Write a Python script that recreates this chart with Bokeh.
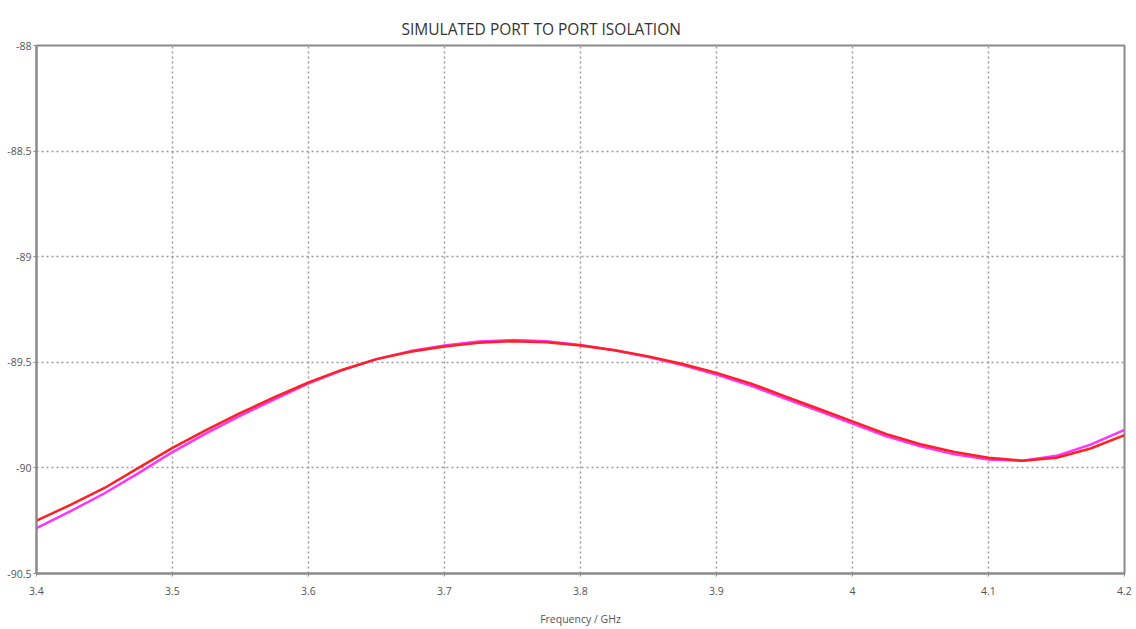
from bokeh.plotting import figure
from bokeh.models import Range1d, FixedTicker, Title
from bokeh.embed import file_html
from bokeh.resources import INLINE

freq = [3.400, 3.425, 3.450, 3.475, 3.500, 3.525, 3.550, 3.575, 3.600, 3.625, 3.650,
        3.675, 3.700, 3.725, 3.750, 3.775, 3.800, 3.825, 3.850, 3.875, 3.900, 3.925,
        3.950, 3.975, 4.000, 4.025, 4.050, 4.075, 4.100, 4.125, 4.150, 4.175, 4.200]

iso_red = [-90.25, -90.175, -90.095, -90.0, -89.905, -89.82, -89.74, -89.665, -89.595, -89.535, -89.485,
           -89.45, -89.425, -89.408, -89.40, -89.405, -89.42, -89.443, -89.472, -89.508, -89.55, -89.60,
           -89.66, -89.72, -89.78, -89.84, -89.888, -89.925, -89.952, -89.966, -89.952, -89.908, -89.845]

iso_magenta = [-90.285, -90.205, -90.12, -90.025, -89.925, -89.835, -89.752, -89.675, -89.60, -89.537, -89.485,
               -89.447, -89.42, -89.402, -89.395, -89.40, -89.418, -89.443, -89.475, -89.513, -89.558, -89.61,
               -89.67, -89.73, -89.79, -89.85, -89.898, -89.936, -89.96, -89.966, -89.943, -89.89, -89.82]

x_ticks = [3.4, 3.5, 3.6, 3.7, 3.8, 3.9, 4.0, 4.1, 4.2]
y_ticks = [-90.5, -90, -89.5, -89, -88.5, -88]
title_text = "SIMULATED PORT TO PORT ISOLATION"

p = figure(width=1136, height=629, output_backend="svg", toolbar_location=None,
           x_range=Range1d(3.4, 4.2), y_range=Range1d(-90.5, -88),
           min_border_left=36, min_border_right=12, min_border_top=45, min_border_bottom=56)
p.title = None
p.add_layout(Title(text=title_text, align="left", vertical_align="top",
                   text_font="Open Sans", text_font_size="15.5px", text_font_style="normal",
                   text_color="#333333", offset=365, standoff=8), "above")

p.line(freq, iso_magenta, line_color="#ff33ff", line_width=2.5)
p.line(freq, iso_red, line_color="#ff2020", line_width=2.5)

p.xaxis.ticker = FixedTicker(ticks=x_ticks)
p.yaxis.ticker = FixedTicker(ticks=y_ticks)
p.xaxis.major_label_overrides = {3.4: "3.4", 3.5: "3.5", 3.6: "3.6", 3.7: "3.7", 3.8: "3.8",
                                 3.9: "3.9", 4.0: "4", 4.1: "4.1", 4.2: "4.2"}
p.yaxis.major_label_overrides = {-90.5: "-90.5", -90: "-90", -89.5: "-89.5", -89: "-89",
                                 -88.5: "-88.5", -88: "-88"}
for ax in (p.xaxis, p.yaxis):
    ax.axis_line_color = "#8a8a8a"
    ax.axis_line_width = 2
    ax.major_tick_line_color = "#8a8a8a"
    ax.major_tick_in = 0
    ax.major_tick_out = 3
    ax.minor_tick_line_color = None
    ax.major_label_text_font = "Open Sans"
    ax.major_label_text_font_size = "10.5px"
    ax.major_label_text_color = "#555555"
p.xaxis.major_label_standoff = 10
p.yaxis.major_label_standoff = 2
p.xaxis.axis_label = "Frequency / GHz"
p.xaxis.axis_label_text_font = "Open Sans"
p.xaxis.axis_label_text_font_size = "10.5px"
p.xaxis.axis_label_text_font_style = "normal"
p.xaxis.axis_label_text_color = "#555555"
p.xaxis.axis_label_standoff = 14

p.xgrid.grid_line_color = "#999999"
p.ygrid.grid_line_color = "#999999"
p.xgrid.grid_line_dash = "2 3"
p.ygrid.grid_line_dash = "2 3"
p.xgrid.grid_line_width = 1.5
p.ygrid.grid_line_width = 1.5

p.outline_line_color = "#8a8a8a"
p.outline_line_width = 2
p.outline_line_alpha = 1

open("out.html", "w").write(file_html(p, INLINE))
